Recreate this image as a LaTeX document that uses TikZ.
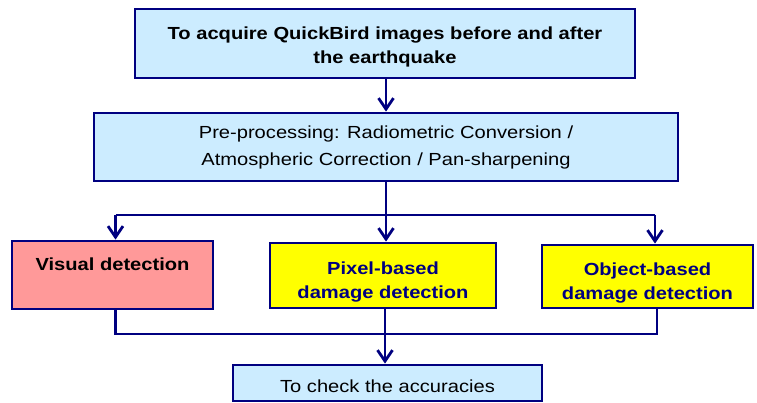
\documentclass[tikz,border=0pt]{standalone}
\usepackage{fontspec}
\setmainfont[FakeStretch=1.15]{Liberation Sans}
\usetikzlibrary{arrows.meta}
\definecolor{lblue}{HTML}{CCECFF}
\definecolor{navy}{HTML}{000080}
\definecolor{pinkfill}{HTML}{FF9999}
\definecolor{yel}{HTML}{FFFF00}
\tikzset{
  box/.style={draw=navy, line width=2.8pt, inner sep=0pt, align=center,
    font=\fontsize{17.5}{24}\selectfont},
  conn/.style={draw=navy, line width=2.8pt},
  arr/.style={-{Straight Barb[length=11pt,width=15pt]}}
}
\begin{document}
\begin{tikzpicture}[x=1pt,y=1pt]
\useasboundingbox (0,0) rectangle (757,-403);
\node[box, fill=lblue, minimum width=500, minimum height=69, text height=42.8pt,
  font=\fontsize{17.5}{24}\selectfont\bfseries]
  (top) at (385,-43.5) {To acquire QuickBird images before and after\\the earthquake};
\node[box, fill=lblue, minimum width=584, minimum height=68, font=\fontsize{17.5}{27}\selectfont]
  (pre) at (386,-147) {Pre-processing: Radiometric Conversion /\\Atmospheric Correction / Pan-sharpening};
\node[box, fill=pinkfill, minimum width=201, minimum height=68, text depth=20.8pt,
  font=\fontsize{17.5}{24}\selectfont\bfseries]
  (visual) at (112.5,-275) {Visual detection};
\node[box, fill=yel, text=navy, minimum width=226, minimum height=65, text height=48.8pt,
  font=\fontsize{17.5}{24}\selectfont\bfseries]
  (pixel) at (383,-275.5) {Pixel-based\\damage detection};
\node[box, fill=yel, text=navy, minimum width=211, minimum height=63, text height=48.8pt,
  font=\fontsize{17.5}{24}\selectfont\bfseries]
  (object) at (647.5,-276.5) {Object-based\\damage detection};
\node[box, fill=lblue, minimum width=309, minimum height=36, text height=18.8pt]
  (check) at (387.5,-383) {To check the accuracies};
% connectors
\draw[conn, arr] (top.south -| pre.north) -- (pre.north);
\coordinate (bl) at (115.5,-215);
\coordinate (bm) at (386,-215);
\coordinate (br) at (655,-215);
\draw[conn] (pre.south -| bm) -- (bm);
\draw[conn] (bl) -- (br);
\draw[conn, arr] (bl) -- (visual.north -| bl);
\draw[conn, arr] (bm) -- (pixel.north -| bm);
\draw[conn, arr] (br) -- (object.north -| br);
\coordinate (ml) at (115.5,-334);
\coordinate (mr) at (657,-334);
\coordinate (mm) at (385,-334);
\draw[conn] (visual.south -| ml) -- (ml) -- (mr) -- (object.south -| mr);
\draw[conn, arr] (pixel.south -| mm) -- (check.north -| mm);
\end{tikzpicture}
\end{document}
